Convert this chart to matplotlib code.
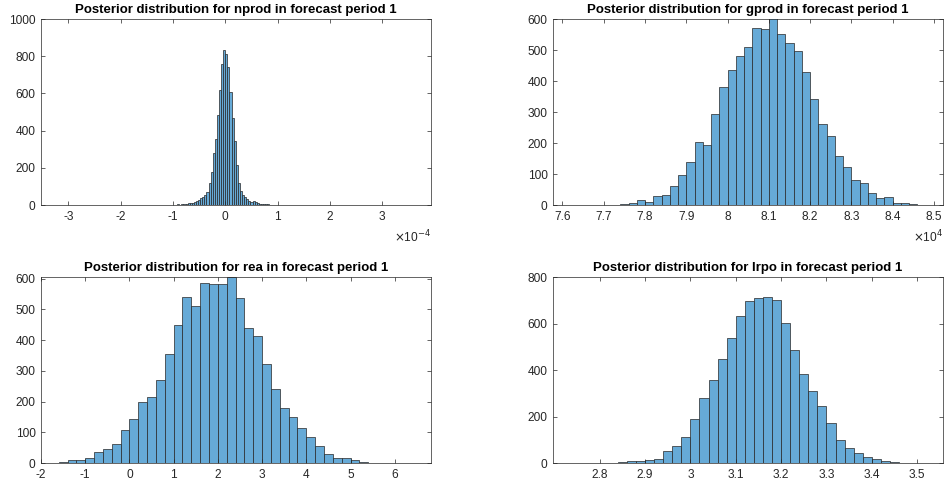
import numpy as np
import matplotlib
matplotlib.use("Agg")
import matplotlib.pyplot as plt
from matplotlib.ticker import FuncFormatter, FixedLocator

plt.rcParams['font.family'] = ['Liberation Sans', 'DejaVu Sans']
plt.rcParams['axes.unicode_minus'] = False

# ---------------- data ----------------
titles = [
    "Posterior distribution for nprod in forecast period 1",
    "Posterior distribution for gprod in forecast period 1",
    "Posterior distribution for rea in forecast period 1",
    "Posterior distribution for lrpo in forecast period 1",
]

# nprod: bins of width 4e-6 starting at -3.32e-4
nprod_start = -3.32e-4
nprod_width = 4e-6
nprod_left_tail = [1, 0, 0, 0, 0, 0, 0, 0, 1, 0, 0, 0, 0, 0, 0, 0, 0, 0, 0, 1,
                   0, 0, 0, 0, 0, 0, 0, 0, 0, 0, 0, 0, 0, 0, 1, 0, 0, 0, 0, 0,
                   0, 0, 0, 0, 0, 1, 0, 1, 0, 0, 1, 0, 1, 2, 0, 1, 1, 2, 1, 2,
                   3, 2, 4]
nprod_center = [6, 7, 9, 10, 12, 16, 21, 27, 36, 45, 54, 72, 116, 179, 278, 355,
                484, 618, 758, 833,
                812, 740, 610, 470, 345, 215, 120, 75, 54, 42, 30, 23, 16, 20,
                14, 9, 7, 5, 4, 3]
nprod_right_tail = [3, 2, 2, 1, 2, 1, 0, 1, 1, 0, 0, 1, 0, 0, 0, 1, 0, 0, 0, 0,
                    1, 0, 0, 0, 0, 0, 0, 1, 0, 0, 0, 0, 0, 0, 0, 0, 1, 0, 0, 0,
                    0, 0, 0, 0, 0, 0, 0, 1, 0, 0, 0, 0, 0, 0, 0, 0, 0, 0, 0, 0,
                    0, 0, 0, 0, 1, 0, 0, 0, 0, 0, 0, 1]
nprod_counts = nprod_left_tail + nprod_center + nprod_right_tail

# gprod: bins of width 200 starting at 76000
gprod_start = 7.60e4
gprod_width = 200
gprod_counts = [0, 1, 0, 1, 0, 0, 1, 3, 6, 17, 11, 30, 32, 60, 97,
                140, 202, 192, 292, 382, 435, 482, 511, 572, 567, 603, 553, 521,
                496, 428, 342, 262, 222, 157, 122, 82, 72, 38, 24, 27, 5, 7, 3, 1, 0]

# rea: bins of width 0.2 starting at -1.6
rea_start = -1.6
rea_width = 0.2
rea_counts = [3, 11, 10, 16, 35, 45, 62, 106, 143, 200, 216, 269, 353, 448, 541,
              512, 586, 583, 583, 605, 537, 438, 413, 322, 241, 180, 151, 113, 84,
              56, 30, 17, 17, 9, 3, 0, 1, 1, 1, 1]

# lrpo: bins of width 0.02 starting at 2.74
lrpo_start = 2.74
lrpo_width = 0.02
lrpo_counts = [1, 0, 1, 0, 0, 4, 8, 10, 14, 17, 52, 74, 112, 189, 279, 358, 446,
               536, 631, 695, 708, 715, 700, 601, 484, 382, 309, 246, 172, 99, 64,
               43, 27, 17, 8, 3, 0, 0, 1]

# axis settings (scale factor for x display, x limits, x ticks, y limits, y ticks)
x_scales = [1e-4, 1e4, 1, 1]
x_exponents = ["-4", "4", None, None]
x_limits = [(-3.522, 3.931), (7.577, 8.522), (-2.0, 6.82), (2.697, 3.557)]
x_ticks = [[-3, -2, -1, 0, 1, 2, 3],
           [7.6, 7.7, 7.8, 7.9, 8.0, 8.1, 8.2, 8.3, 8.4, 8.5],
           [-2, -1, 0, 1, 2, 3, 4, 5, 6],
           [2.8, 2.9, 3.0, 3.1, 3.2, 3.3, 3.4, 3.5]]
y_limits = [(0, 1000), (0, 600), (0, 605), (0, 800)]
y_ticks = [[0, 200, 400, 600, 800, 1000],
           [0, 100, 200, 300, 400, 500, 600],
           [0, 100, 200, 300, 400, 500, 600],
           [0, 200, 400, 600, 800]]

starts = [nprod_start, gprod_start, rea_start, lrpo_start]
widths = [nprod_width, gprod_width, rea_width, lrpo_width]
counts_all = [nprod_counts, gprod_counts, rea_counts, lrpo_counts]

# ---------------- figure ----------------
W, H = 946, 486
fig = plt.figure(figsize=(W / 100, H / 100), dpi=100)

# axes boxes in pixels (left, top, right, bottom)
boxes = [(41, 19, 431, 205), (553, 19, 943, 205),
         (41, 277, 431, 463), (553, 277, 943, 463)]

face = (0.4, 0.668, 0.845)
edge = (0.15, 0.15, 0.15)
axcol = '#262626'

for i in range(4):
    l, t, r, b = boxes[i]
    ax = fig.add_axes([l / W, 1 - b / H, (r - l) / W, (b - t) / H])
    sc = x_scales[i]
    n = len(counts_all[i])
    edges = (starts[i] + widths[i] * np.arange(n + 1)) / sc
    ax.bar(edges[:-1], counts_all[i], width=np.diff(edges), align='edge',
           color=face, edgecolor=edge, linewidth=0.5)
    ax.set_xlim(*x_limits[i])
    ax.set_ylim(*y_limits[i])
    ax.xaxis.set_major_locator(FixedLocator(x_ticks[i]))
    ax.yaxis.set_major_locator(FixedLocator(y_ticks[i]))
    ax.xaxis.set_major_formatter(FuncFormatter(lambda v, p: '%g' % round(v, 6)))
    ax.yaxis.set_major_formatter(FuncFormatter(lambda v, p: '%g' % v))
    ax.tick_params(direction='in', top=True, right=True, length=3, width=0.5,
                   color=axcol, labelcolor=axcol, labelsize=8.6, pad=4)
    for s in ax.spines.values():
        s.set_color(axcol)
        s.set_linewidth(0.5)
    ax.set_title(titles[i], fontsize=9.5, fontweight='bold', pad=4, color='black')
    if x_exponents[i] is not None:
        ax.text(1.0, -0.13, r'$\times$10$^{%s}$' % x_exponents[i],
                transform=ax.transAxes, ha='right', va='top',
                fontsize=8.6, color=axcol)

fig.savefig("out.png", dpi=100)
